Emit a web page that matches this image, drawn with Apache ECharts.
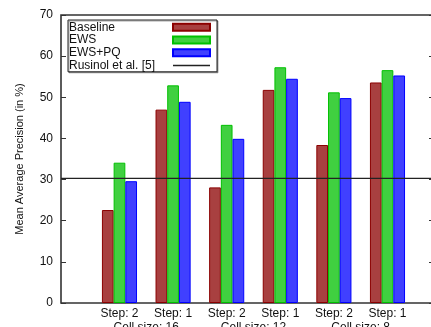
<!DOCTYPE html>
<html>
<head>
<meta charset="utf-8">
<script src="https://cdn.jsdelivr.net/npm/echarts@6/dist/echarts.min.js"></script>
<style>html,body{margin:0;padding:0;background:#fff;}#c{width:431px;height:327px;}</style>
</head>
<body>
<div id="c"></div>
<script>
var stepLabels = ['Step: 2', 'Step: 1', 'Step: 2', 'Step: 1', 'Step: 2', 'Step: 1'];
var cellLabels = ['Cell size: 16', 'Cell size: 12', 'Cell size: 8'];
var cellPositions = [0.5, 2.5, 4.5];
var baseline = [22.6, 47.0, 28.1, 51.8, 38.4, 53.6];
var ews = [34.1, 52.9, 43.3, 57.3, 51.2, 56.6];
var ewsPq = [29.6, 48.9, 39.9, 54.5, 49.8, 55.3];
var rusinol = [30.3];

var xMin = -1.091, xMax = 5.849;
var font = 'Liberation Sans, Arial, sans-serif';

function toPairs(arr) { return arr.map(function (v, i) { return [i, v]; }); }

var chart = echarts.init(document.getElementById('c'), null, {renderer: 'canvas'});
chart.setOption({
  animation: false,
  backgroundColor: '#fff',
  grid: {left: 61, top: 15, right: -2, bottom: 24, outerBoundsMode: 'none', containLabel: false,
    show: true, borderColor: '#333', borderWidth: 1.6, backgroundColor: 'transparent'},
  legend: {
    left: 68, top: 20, orient: 'vertical', align: 'right', icon: 'rect',
    itemWidth: 37, itemHeight: 7, itemGap: 0,
    padding: [1, 6, 0, 1],
    borderColor: '#222', borderWidth: 1, backgroundColor: '#fff',
    shadowColor: 'rgba(0,0,0,0.35)', shadowOffsetX: 1, shadowOffsetY: 1, shadowBlur: 0,
    formatter: function (name) { return '{t|' + name + '}'; },
    textStyle: {fontFamily: font, fontSize: 12, color: '#111', lineHeight: 12.7,
      rich: {t: {fontFamily: font, fontSize: 12, color: '#111', width: 99, align: 'left', lineHeight: 12.7}}},
    data: [
      {name: 'Baseline', icon: 'rect'},
      {name: 'EWS', icon: 'rect'},
      {name: 'EWS+PQ', icon: 'rect'},
      {name: 'Rusinol et al. [5]', icon: 'path://M0,0L37,0L37,1.4L0,1.4Z'}]
  },
  xAxis: [{
    type: 'value', min: xMin, max: xMax,
    axisLine: {show: false, onZero: false}, axisTick: {show: false}, splitLine: {show: false},
    axisLabel: {customValues: [0, 1, 2, 3, 4, 5], margin: 5, fontFamily: font, fontSize: 12, color: '#111',
      formatter: function (v) { return stepLabels[Math.round(v)]; }}
  }, {
    type: 'value', min: xMin, max: xMax, position: 'bottom',
    axisLine: {show: false, onZero: false}, axisTick: {show: false}, splitLine: {show: false},
    axisLabel: {customValues: cellPositions, margin: 19, fontFamily: font, fontSize: 12, color: '#111',
      formatter: function (v) {
        var idx = cellPositions.indexOf(Math.round(v * 10) / 10);
        return idx >= 0 ? cellLabels[idx] : '';
      }}
  }],
  yAxis: [{
    type: 'value', min: 0, max: 70, interval: 10, position: 'left',
    name: 'Mean Average Precision (in %)', nameLocation: 'middle', nameGap: 36,
    nameTextStyle: {fontFamily: font, fontSize: 11, color: '#111'},
    axisLine: {show: false, onZero: false}, splitLine: {show: false},
    axisTick: {show: true, inside: true, length: 5, lineStyle: {color: '#333', width: 1}},
    axisLabel: {margin: 8, fontFamily: font, fontSize: 12, color: '#111'}
  }, {
    type: 'value', min: 0, max: 70, interval: 10, position: 'right',
    axisLine: {show: false, onZero: false}, splitLine: {show: false},
    axisTick: {show: true, inside: true, length: 4, lineStyle: {color: '#333', width: 1}},
    axisLabel: {show: false}
  }],
  series: [{
    name: 'Baseline', type: 'bar', data: toPairs(baseline), barWidth: 11.7, barGap: '0%',
    itemStyle: {color: '#a84040', borderColor: '#8b0000', borderWidth: 1}
  }, {
    name: 'EWS', type: 'bar', data: toPairs(ews), barWidth: 11.7, barGap: '0%',
    itemStyle: {color: '#40d040', borderColor: '#00c000', borderWidth: 1}
  }, {
    name: 'EWS+PQ', type: 'bar', data: toPairs(ewsPq), barWidth: 11.7, barGap: '0%',
    itemStyle: {color: '#4040ff', borderColor: '#0000ff', borderWidth: 1}
  }, {
    name: 'Rusinol et al. [5]', type: 'line', symbol: 'none', z: 5,
    data: [[xMin, rusinol[0]], [xMax, rusinol[0]]],
    lineStyle: {color: '#222', width: 1.4},
    itemStyle: {color: '#222'}
  }]
});
</script>
</body>
</html>
